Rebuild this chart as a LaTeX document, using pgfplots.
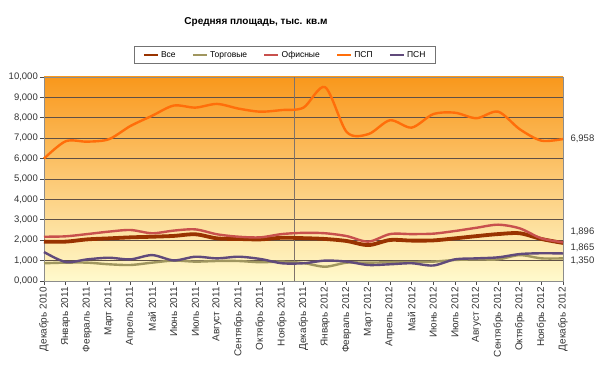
\documentclass[border=0pt]{standalone}
\usepackage{fontspec}
\setmainfont{Liberation Sans}
\usepackage{pgfplots}
\pgfplotsset{compat=1.18}
\definecolor{cVse}{RGB}{153,51,0}
\definecolor{cTorg}{RGB}{160,150,95}
\definecolor{cOfis}{RGB}{200,80,77}
\definecolor{cPSP}{RGB}{255,110,10}
\definecolor{cPSN}{RGB}{96,74,123}
\definecolor{gridc}{RGB}{95,80,70}
\definecolor{bgtop}{RGB}{249,152,28}
\definecolor{bgbot}{RGB}{255,250,205}
\begin{document}
\begin{tikzpicture}
\useasboundingbox (0,0) rectangle (600pt,367pt);
\node[font=\bfseries\fontsize{10}{12}\selectfont] at (256pt,345pt) {Средняя площадь, тыс. кв.м};
\begin{axis}[
  at={(44pt,86pt)}, anchor=south west,
  scale only axis, width=519pt, height=204pt,
  xmin=0, xmax=24, ymin=0, ymax=10000,
  scaled y ticks=false,
  xtick={0,...,24},
  xticklabels={Декабрь 2010,Январь 2011,Февраль 2011,Март 2011,Апрель 2011,Май 2011,Июнь 2011,Июль 2011,Август 2011,Сентябрь 2011,Октябрь 2011,Ноябрь 2011,Декабрь 2011,Январь 2012,Февраль 2012,Март 2012,Апрель 2012,Май 2012,Июнь 2012,Июль 2012,Август 2012,Сентябрь 2012,Октябрь 2012,Ноябрь 2012,Декабрь 2012},
  ytick={0,1000,...,10000},
  yticklabels={{0,000},{1,000},{2,000},{3,000},{4,000},{5,000},{6,000},{7,000},{8,000},{9,000},{10,000}},
  xticklabel style={rotate=90, anchor=east, font=\fontsize{10}{12}\selectfont, text=black!80, inner sep=2pt},
  yticklabel style={font=\fontsize{9.5}{11}\selectfont, text=black!80, inner sep=2pt},
  tick align=outside, tick pos=left,
  major tick length=4pt,
  tick style={draw=black!70, line width=0.6pt},
  axis line style={draw=black!45},
  ymajorgrids, grid style={draw=gridc, line width=0.7pt},
  axis background/.style={top color=bgtop, bottom color=bgbot},
  clip=false,
  legend columns=5,
  legend style={at={(0.4644,1.108)}, anchor=center, draw=black!55, line width=0.6pt,
    font=\fontsize{8.5}{10}\selectfont, inner xsep=8pt, inner ysep=3pt,
    /tikz/every even column/.append style={column sep=14pt}},
  legend image code/.code={\draw[#1, line width=2.5pt] (0pt,0pt) -- (14pt,0pt);},
]
\draw[draw=gridc!80, line width=0.4pt] (axis cs:11.56,0) -- (axis cs:11.56,10000);
\addplot[cVse, line width=3.8pt, smooth, tension=0.5] coordinates {
(0,1930)(1,1930)(2,2040)(3,2090)(4,2140)(5,2170)(6,2210)(7,2290)(8,2090)(9,2060)(10,2040)(11,2120)(12,2100)(13,2060)(14,1960)(15,1760)(16,2010)(17,1980)(18,1990)(19,2090)(20,2200)(21,2300)(22,2340)(23,2060)(24,1865)};
\addlegendentry{Все}
\addplot[cTorg, line width=2.4pt, smooth, tension=0.5] coordinates {
(0,870)(1,900)(2,900)(3,820)(4,785)(5,900)(6,1000)(7,950)(8,980)(9,980)(10,920)(11,950)(12,880)(13,700)(14,900)(15,900)(16,920)(17,930)(18,950)(19,1030)(20,1060)(21,1060)(22,1270)(23,1110)(24,1110)};
\addlegendentry{Торговые}
\addplot[cOfis, line width=2.4pt, smooth, tension=0.5] coordinates {
(0,2170)(1,2190)(2,2300)(3,2420)(4,2500)(5,2340)(6,2470)(7,2530)(8,2290)(9,2170)(10,2140)(11,2300)(12,2360)(13,2340)(14,2200)(15,1930)(16,2300)(17,2300)(18,2320)(19,2450)(20,2610)(21,2760)(22,2580)(23,2090)(24,1896)};
\addlegendentry{Офисные}
\addplot[cPSP, line width=2.4pt, smooth, tension=0.5] coordinates {
(0,6000)(1,6850)(2,6830)(3,6950)(4,7600)(5,8100)(6,8600)(7,8500)(8,8680)(9,8450)(10,8300)(11,8380)(12,8500)(13,9500)(14,7300)(15,7200)(16,7880)(17,7520)(18,8180)(19,8250)(20,7980)(21,8300)(22,7440)(23,6880)(24,6958)};
\addlegendentry{ПСП}
\addplot[cPSN, line width=2.4pt, smooth, tension=0.5] coordinates {
(0,1420)(1,930)(2,1060)(3,1140)(4,1060)(5,1270)(6,1010)(7,1190)(8,1110)(9,1190)(10,1080)(11,870)(12,870)(13,1000)(14,950)(15,785)(16,820)(17,870)(18,760)(19,1060)(20,1110)(21,1160)(22,1320)(23,1360)(24,1350)};
\addlegendentry{ПСН}
\node[anchor=west, font=\fontsize{9.5}{11}\selectfont, text=black!80] at (axis cs:24,6958) [xshift=4pt] {6,958};
\node[anchor=west, font=\fontsize{9.5}{11}\selectfont, text=black!80] at (axis cs:24,2400) [xshift=4pt] {1,896};
\node[anchor=west, font=\fontsize{9.5}{11}\selectfont, text=black!80] at (axis cs:24,1620) [xshift=4pt] {1,865};
\node[anchor=west, font=\fontsize{9.5}{11}\selectfont, text=black!80] at (axis cs:24,995) [xshift=4pt] {1,350};
\end{axis}
\end{tikzpicture}
\end{document}
